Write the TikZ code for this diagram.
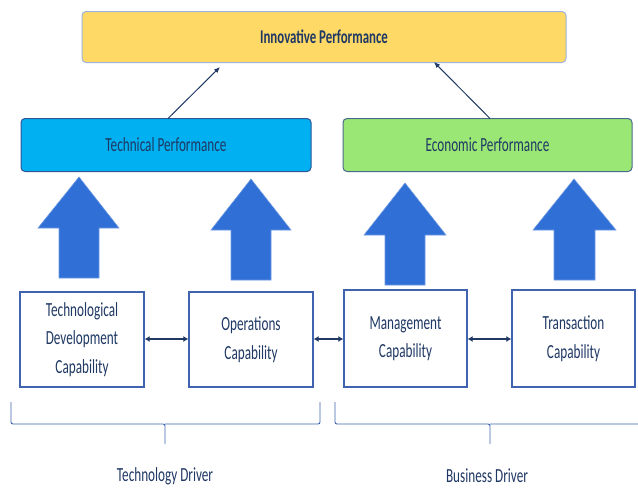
\documentclass[tikz,border=0pt]{standalone}
\usepackage{fontspec}
\setmainfont{Carlito}[FakeStretch=0.66]
\usetikzlibrary{arrows.meta}
\definecolor{txt}{HTML}{1F3864}
\definecolor{topfill}{HTML}{FFD966}
\definecolor{topline}{HTML}{9DB3DB}
\definecolor{techfill}{HTML}{00B0F0}
\definecolor{techline}{HTML}{2F5597}
\definecolor{econfill}{HTML}{9BE775}
\definecolor{econline}{HTML}{4A6A8A}
\definecolor{capline}{HTML}{3F63AE}
\definecolor{blockblue}{HTML}{2F6FD6}
\definecolor{bracecol}{HTML}{3F63AE}
\tikzset{
  perfbox/.style={draw, line width=1pt, rounded corners=4pt, inner sep=0pt, text=txt, font=\fontsize{20}{24}\selectfont},
  capbox/.style={draw=capline, line width=1.2pt, fill=white, inner sep=0pt, text=txt, align=center, font=\fontsize{20}{28.5}\selectfont},
  linkarrow/.style={draw=txt, line width=1pt, -{Latex[length=6pt,width=5pt]}},
  duplex/.style={draw=txt, line width=1.5pt, {Latex[length=5pt,width=6pt]}-{Latex[length=5pt,width=6pt]}},
  blockarrow/.style={fill=blockblue, draw=blockblue!70!white, line width=0.6pt},
  brace/.style={draw=bracecol, line width=0.9pt, rounded corners=2pt},
  drivertext/.style={text=txt, font=\fontsize{20}{24}\selectfont}
}
\begin{document}
\begin{tikzpicture}[x=1pt, y=-1pt]
\useasboundingbox (0,0) rectangle (638,488);

% performance layer
\node[perfbox, draw=topline, fill=topfill, minimum width=484pt, minimum height=51pt, font=\fontsize{19.5}{23}\selectfont\bfseries] (inno) at (324,37) {Innovative Performance};
\node[perfbox, draw=techline, fill=techfill, minimum width=290pt, minimum height=53pt] (tech) at (166,145) {Technical Performance};
\node[perfbox, draw=econline, fill=econfill, minimum width=289pt, minimum height=53pt] (econ) at (487.5,145) {Economic Performance};

\coordinate (techtop) at (168,118.5);
\coordinate (econtop) at (490,118.5);
\coordinate (innoL) at (220,67);
\coordinate (innoR) at (434,62);
\draw[linkarrow] (techtop) -- (innoL);
\draw[linkarrow] (econtop) -- (innoR);

% capability layer
\node[capbox, minimum width=124pt, minimum height=95pt] (tdc) at (82,339.5) {Technological\\Development\\Capability};
\node[capbox, minimum width=124pt, minimum height=95pt] (opc) at (251,339.5) {Operations\\Capability};
\node[capbox, minimum width=123pt, minimum height=97pt] (mgc) at (405.5,338.5) {Management\\Capability};
\node[capbox, minimum width=123pt, minimum height=97pt] (trc) at (573.5,338.5) {Transaction\\Capability};

\draw[duplex] (tdc.east |- 0,339) -- (opc.west |- 0,339);
\draw[duplex] (opc.east |- 0,339) -- (mgc.west |- 0,339);
\draw[duplex] (mgc.east |- 0,339) -- (trc.west |- 0,339);

% block arrows from capabilities to performance
\draw[blockarrow] (59,278) -- (59,228) -- (38,228) -- (79,177) -- (119,228) -- (99,228) -- (99,278) -- cycle;
\draw[blockarrow] (231,280) -- (231,230) -- (211,230) -- (251,179) -- (291,230) -- (271,230) -- (271,280) -- cycle;
\draw[blockarrow] (385,285) -- (385,235) -- (364,235) -- (405,183) -- (446,235) -- (425,235) -- (425,285) -- cycle;
\draw[blockarrow] (554,280) -- (554,230) -- (533,230) -- (574,179) -- (616,230) -- (595,230) -- (595,280) -- cycle;

% driver braces
\coordinate (tbraceL) at (11,402);
\coordinate (tbraceR) at (320,402);
\coordinate (tbraceM) at (165,444);
\coordinate (bbraceL) at (335,402);
\coordinate (bbraceR) at (642,402);
\coordinate (bbraceM) at (490,444);
\draw[brace] (tbraceL) -- (11,424) -- (tbraceM |- 0,424) -- (tbraceM) (tbraceM |- 0,424) -- (320,424) -- (tbraceR);
\draw[brace] (bbraceL) -- (335,424) -- (bbraceM |- 0,424) -- (bbraceM) (bbraceM |- 0,424) -- (642,424) -- (bbraceR);

\node[drivertext] (techdrv) at (165,476) {Technology Driver};
\node[drivertext] (busdrv) at (487,476) {Business Driver};
\end{tikzpicture}
\end{document}
